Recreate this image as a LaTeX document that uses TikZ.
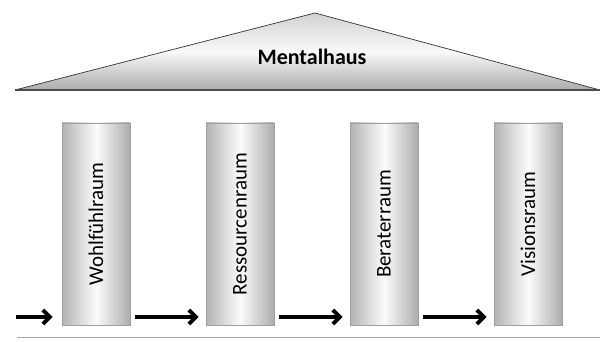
\documentclass[tikz,border=0pt]{standalone}
\usepackage{fontspec}
\setmainfont{Carlito}
\usetikzlibrary{arrows.meta,positioning}

\begin{document}
\begin{tikzpicture}[x=1pt,y=-1pt,
		pillar/.style={draw=gray!75, line width=0.6pt, minimum width=68pt, minimum height=202pt, inner sep=0pt,
			left color=gray!60, right color=gray!65, middle color=gray!3, font=\fontsize{21}{24}\selectfont},
		flow/.style={line width=4pt, -{Straight Barb[length=7pt,width=14pt]}}]
		\useasboundingbox (0,0) rectangle (600,342);
		
		% Dach
		\shade[top color=gray!35, bottom color=gray!65, middle color=gray!5] (15,90) -- (315,13) -- (600,90) -- cycle;
		\draw[gray!40!black, line width=0.7pt] (15,90) -- (315,13) -- (600,90);
		\draw[gray!60!black, line width=1.2pt] (15,90) -- (600,90);
		\node (dach) at (312,57) {\fontsize{22}{26}\selectfont\bfseries Mentalhaus};
		
		% Saeulen
		\node[pillar] (wohl) at (96,224) {\rotatebox{90}{Wohlfühlraum}};
		\node[pillar] (ress) at (240,224) {\rotatebox{90}{Ressourcenraum}};
		\node[pillar] (berat) at (384,224) {\rotatebox{90}{Beraterraum}};
		\node[pillar] (vision) at (528,224) {\rotatebox{90}{Visionsraum}};
		
		% Pfeile
		\coordinate (start) at (16,317);
		\draw[flow, shorten >=9pt] (start) -- (start -| wohl.west);
		\draw[flow, shorten <=5pt, shorten >=7pt] (wohl.east |- start) -- (ress.west |- start);
		\draw[flow, shorten <=5pt, shorten >=7pt] (ress.east |- start) -- (berat.west |- start);
		\draw[flow, shorten <=5pt, shorten >=7pt] (berat.east |- start) -- (vision.west |- start);
		
		% Boden
		\draw[gray!70, line width=0.8pt] (17,337) -- (600,337);
	\end{tikzpicture}
\end{document}
